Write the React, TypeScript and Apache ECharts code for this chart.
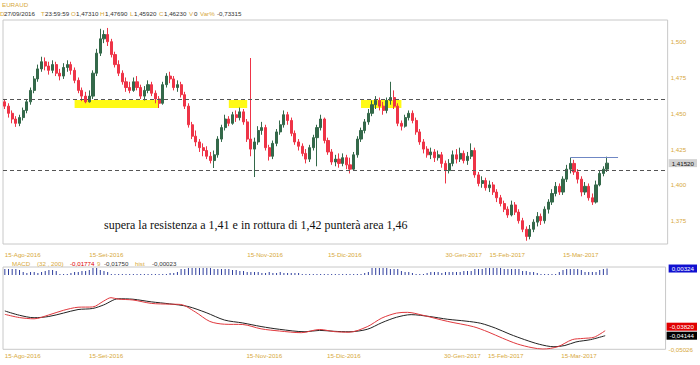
import React, { useEffect, useRef } from "react";
import * as echarts from "echarts";

const MONTHS_IT = ["Gen", "Feb", "Mar", "Apr", "Mag", "Giu", "Lug", "Ago", "Set", "Ott", "Nov", "Dic"];
const SLOT_COUNT = 181; // trading days on the axis (data + empty space on the right)

// [open, close, low, high]
const candles: number[][] = [
  [1.4580, 1.4550, 1.4530, 1.4600], [1.4550, 1.4500, 1.4470, 1.4570], [1.4500, 1.4460, 1.4430, 1.4520],
  [1.4460, 1.4430, 1.4405, 1.4480], [1.4430, 1.4470, 1.4410, 1.4490], [1.4470, 1.4520, 1.4450, 1.4540],
  [1.4520, 1.4580, 1.4500, 1.4600], [1.4580, 1.4660, 1.4560, 1.4680], [1.4660, 1.4740, 1.4640, 1.4760],
  [1.4740, 1.4810, 1.4720, 1.4840], [1.4810, 1.4860, 1.4790, 1.4895], [1.4860, 1.4830, 1.4800, 1.4890],
  [1.4830, 1.4800, 1.4770, 1.4860], [1.4800, 1.4840, 1.4780, 1.4870], [1.4840, 1.4780, 1.4760, 1.4860],
  [1.4780, 1.4760, 1.4730, 1.4810], [1.4760, 1.4820, 1.4740, 1.4850], [1.4820, 1.4840, 1.4790, 1.4870],
  [1.4840, 1.4800, 1.4770, 1.4860], [1.4800, 1.4730, 1.4710, 1.4820], [1.4730, 1.4660, 1.4640, 1.4750],
  [1.4660, 1.4620, 1.4585, 1.4680], [1.4620, 1.4580, 1.4570, 1.4650], [1.4580, 1.4620, 1.4575, 1.4660],
  [1.4620, 1.4780, 1.4600, 1.4800], [1.4780, 1.4920, 1.4760, 1.4950], [1.4920, 1.5020, 1.4900, 1.5090],
  [1.5020, 1.5050, 1.4990, 1.5080], [1.5050, 1.5000, 1.4970, 1.5096], [1.5000, 1.4910, 1.4890, 1.5020],
  [1.4910, 1.4840, 1.4820, 1.4930], [1.4840, 1.4780, 1.4760, 1.4870], [1.4780, 1.4720, 1.4700, 1.4800],
  [1.4720, 1.4680, 1.4650, 1.4750], [1.4680, 1.4660, 1.4640, 1.4720], [1.4660, 1.4720, 1.4650, 1.4750],
  [1.4720, 1.4680, 1.4660, 1.4760], [1.4680, 1.4620, 1.4600, 1.4700], [1.4620, 1.4660, 1.4590, 1.4690],
  [1.4660, 1.4700, 1.4640, 1.4730], [1.4700, 1.4640, 1.4620, 1.4720], [1.4640, 1.4600, 1.4570, 1.4660],
  [1.4600, 1.4570, 1.4537, 1.4620], [1.4570, 1.4700, 1.4560, 1.4720], [1.4700, 1.4760, 1.4680, 1.4780],
  [1.4760, 1.4740, 1.4710, 1.4790], [1.4740, 1.4680, 1.4660, 1.4760], [1.4680, 1.4700, 1.4650, 1.4730],
  [1.4700, 1.4630, 1.4610, 1.4720], [1.4630, 1.4550, 1.4530, 1.4650], [1.4550, 1.4420, 1.4400, 1.4570],
  [1.4420, 1.4340, 1.4320, 1.4440], [1.4340, 1.4300, 1.4270, 1.4380], [1.4300, 1.4260, 1.4230, 1.4320],
  [1.4260, 1.4240, 1.4200, 1.4290], [1.4240, 1.4200, 1.4180, 1.4270], [1.4200, 1.4170, 1.4150, 1.4230],
  [1.4170, 1.4210, 1.4118, 1.4240], [1.4210, 1.4320, 1.4190, 1.4340], [1.4320, 1.4400, 1.4300, 1.4420],
  [1.4400, 1.4460, 1.4380, 1.4490], [1.4460, 1.4430, 1.4410, 1.4480], [1.4430, 1.4490, 1.4420, 1.4510],
  [1.4490, 1.4470, 1.4440, 1.4520], [1.4470, 1.4510, 1.4450, 1.4540], [1.4510, 1.4440, 1.4420, 1.4530],
  [1.4440, 1.4320, 1.4300, 1.4460], [1.4320, 1.4250, 1.4200, 1.4886], [1.4250, 1.4300, 1.4055, 1.4330],
  [1.4300, 1.4380, 1.4280, 1.4410], [1.4380, 1.4400, 1.4350, 1.4440], [1.4400, 1.4260, 1.4240, 1.4420],
  [1.4260, 1.4200, 1.4170, 1.4280], [1.4200, 1.4290, 1.4180, 1.4310], [1.4290, 1.4370, 1.4270, 1.4390],
  [1.4370, 1.4420, 1.4350, 1.4450], [1.4420, 1.4490, 1.4400, 1.4520], [1.4490, 1.4450, 1.4420, 1.4510],
  [1.4450, 1.4360, 1.4340, 1.4470], [1.4360, 1.4300, 1.4280, 1.4380], [1.4300, 1.4270, 1.4240, 1.4320],
  [1.4270, 1.4220, 1.4200, 1.4290], [1.4220, 1.4180, 1.4150, 1.4250], [1.4180, 1.4260, 1.4160, 1.4280],
  [1.4260, 1.4330, 1.4240, 1.4350], [1.4330, 1.4400, 1.4130, 1.4420], [1.4400, 1.4460, 1.4380, 1.4490],
  [1.4460, 1.4310, 1.4290, 1.4470], [1.4310, 1.4230, 1.4210, 1.4330], [1.4230, 1.4160, 1.4140, 1.4250],
  [1.4160, 1.4180, 1.4130, 1.4210], [1.4180, 1.4150, 1.4120, 1.4220], [1.4150, 1.4190, 1.4130, 1.4220],
  [1.4190, 1.4140, 1.4110, 1.4210], [1.4140, 1.4110, 1.4080, 1.4190], [1.4110, 1.4210, 1.4100, 1.4230],
  [1.4210, 1.4320, 1.4190, 1.4340], [1.4320, 1.4380, 1.4300, 1.4400], [1.4380, 1.4440, 1.4360, 1.4460],
  [1.4440, 1.4500, 1.4420, 1.4530], [1.4500, 1.4560, 1.4480, 1.4590], [1.4560, 1.4590, 1.4530, 1.4620],
  [1.4590, 1.4550, 1.4520, 1.4610], [1.4550, 1.4520, 1.4490, 1.4580], [1.4520, 1.4590, 1.4500, 1.4610],
  [1.4590, 1.4610, 1.4560, 1.4720], [1.4610, 1.4550, 1.4530, 1.4660], [1.4550, 1.4430, 1.4410, 1.4570],
  [1.4430, 1.4410, 1.4380, 1.4450], [1.4410, 1.4470, 1.4400, 1.4490], [1.4470, 1.4500, 1.4450, 1.4520],
  [1.4500, 1.4450, 1.4430, 1.4520], [1.4450, 1.4370, 1.4350, 1.4470], [1.4370, 1.4300, 1.4280, 1.4390],
  [1.4300, 1.4250, 1.4220, 1.4320], [1.4250, 1.4210, 1.4190, 1.4270], [1.4210, 1.4230, 1.4180, 1.4260],
  [1.4230, 1.4190, 1.4160, 1.4250], [1.4190, 1.4210, 1.4170, 1.4240], [1.4210, 1.4150, 1.4120, 1.4230],
  [1.4150, 1.4100, 1.4010, 1.4170], [1.4100, 1.4150, 1.4080, 1.4180], [1.4150, 1.4210, 1.4130, 1.4240],
  [1.4210, 1.4180, 1.4150, 1.4250], [1.4180, 1.4220, 1.4160, 1.4260], [1.4220, 1.4170, 1.4150, 1.4240],
  [1.4170, 1.4200, 1.4140, 1.4230], [1.4200, 1.4240, 1.4180, 1.4290], [1.4240, 1.4070, 1.4050, 1.4260],
  [1.4070, 1.4010, 1.3990, 1.4090], [1.4010, 1.4030, 1.3980, 1.4060], [1.4030, 1.3980, 1.3960, 1.4050],
  [1.3980, 1.4000, 1.3950, 1.4030], [1.4000, 1.3950, 1.3930, 1.4020], [1.3950, 1.3910, 1.3880, 1.3970],
  [1.3910, 1.3870, 1.3850, 1.3930], [1.3870, 1.3830, 1.3810, 1.3890], [1.3830, 1.3790, 1.3770, 1.3850],
  [1.3790, 1.3860, 1.3780, 1.3890], [1.3860, 1.3810, 1.3790, 1.3880], [1.3810, 1.3750, 1.3730, 1.3830],
  [1.3750, 1.3690, 1.3670, 1.3770], [1.3690, 1.3640, 1.3610, 1.3710], [1.3640, 1.3690, 1.3620, 1.3720],
  [1.3690, 1.3740, 1.3670, 1.3760], [1.3740, 1.3780, 1.3710, 1.3810], [1.3780, 1.3750, 1.3720, 1.3800],
  [1.3750, 1.3830, 1.3730, 1.3850], [1.3830, 1.3880, 1.3800, 1.3900], [1.3880, 1.3940, 1.3860, 1.3970],
  [1.3940, 1.3990, 1.3920, 1.4020], [1.3990, 1.3950, 1.3930, 1.4010], [1.3950, 1.4040, 1.3930, 1.4060],
  [1.4040, 1.4110, 1.4020, 1.4140], [1.4110, 1.4150, 1.4080, 1.4190], [1.4150, 1.4090, 1.4070, 1.4175],
  [1.4090, 1.4040, 1.4010, 1.4110], [1.4040, 1.3950, 1.3920, 1.4060], [1.3950, 1.3990, 1.3930, 1.4020],
  [1.3990, 1.3910, 1.3890, 1.4010], [1.3910, 1.3880, 1.3860, 1.3940], [1.3880, 1.4000, 1.3870, 1.4030],
  [1.4000, 1.4080, 1.3990, 1.4100], [1.4080, 1.4110, 1.4060, 1.4130], [1.4110, 1.4152, 1.4090, 1.4197],
];

// MACD (red) and signal (black): [candle index, value]
const macdPoints: number[][] = [
  [0, -0.0276], [4, -0.0297], [8, -0.0305], [12, -0.0280], [16, -0.0250], [20, -0.0230], [24, -0.0228],
  [27, -0.0190], [29, -0.0168], [31, -0.01774], [35, -0.0183], [40, -0.0205], [45, -0.0210], [48, -0.0212],
  [52, -0.0260], [56, -0.0322], [60, -0.0340], [65, -0.0342], [70, -0.0370], [75, -0.0384], [81, -0.0395],
  [86, -0.0374], [90, -0.0388], [94, -0.0392], [99, -0.0356], [103, -0.0300], [107, -0.0268], [110, -0.0263],
  [114, -0.0281], [121, -0.0322], [128, -0.0356], [132, -0.0390], [136, -0.0431], [140, -0.0468],
  [144, -0.0492], [147, -0.0501], [151, -0.0486], [155, -0.0440], [158, -0.0432], [161, -0.0424], [164, -0.0382],
];
const signalPoints: number[][] = [
  [0, -0.0254], [4, -0.0282], [8, -0.0298], [12, -0.0290], [16, -0.0268], [20, -0.0245], [24, -0.0238],
  [27, -0.0215], [31, -0.0175], [35, -0.0178], [40, -0.0195], [45, -0.0208], [50, -0.0225], [55, -0.0265],
  [60, -0.0313], [65, -0.0332], [70, -0.0355], [75, -0.0373], [82, -0.0389], [86, -0.0380], [90, -0.0386],
  [94, -0.0389], [99, -0.0373], [103, -0.0330], [107, -0.0295], [111, -0.0278], [116, -0.0290], [121, -0.0308],
  [126, -0.0320], [130, -0.0334], [134, -0.0365], [138, -0.0405], [142, -0.0440], [146, -0.0470],
  [150, -0.0486], [153, -0.0478], [156, -0.0455], [160, -0.0440], [164, -0.04144],
];
// histogram magnitude per candle
const histogram: number[] = [
  0.0030, 0.0030, 0.0030, 0.0030, 0.0025, 0.0015, 0.0010, 0.0015, 0.0015, 0.0010,
  0.0015, 0.0020, 0.0025, 0.0025, 0.0020, 0.0005, 0.0005, 0.0005, 0.0010, 0.0015,
  0.0015, 0.0020, 0.0020, 0.0025, 0.0035, 0.0035, 0.0025, 0.0020, 0.0015, 0.0005,
  0.0005, 0.0005, 0.0005, 0.0005, 0.0005, 0.0005, 0.0005, 0.0005, 0.0005, 0.0005,
  0.0005, 0.0005, 0.0005, 0.0005, 0.0005, 0.0010, 0.0010, 0.0015, 0.0030, 0.0030,
  0.0035, 0.0035, 0.0035, 0.0035, 0.0035, 0.0035, 0.0035, 0.0030, 0.0030, 0.0030,
  0.0030, 0.0030, 0.0025, 0.0025, 0.0020, 0.0020, 0.0015, 0.0015, 0.0015, 0.0015,
  0.0010, 0.0010, 0.0015, 0.0010, 0.0010, 0.0015, 0.0010, 0.0010, 0.0010, 0.0010,
  0.0010, 0.0005, 0.0005, 0.0005, 0.0005, 0.0005, 0.0005, 0.0005, 0.0005, 0.0005,
  0.0005, 0.0005, 0.0005, 0.0005, 0.0005, 0.0005, 0.0005, 0.0005, 0.0010, 0.0015,
  0.0035, 0.0035, 0.0035, 0.0035, 0.0035, 0.0030, 0.0030, 0.0030, 0.0020, 0.0015,
  0.0015, 0.0010, 0.0005, 0.0005, 0.0005, 0.0010, 0.0015, 0.0015, 0.0015, 0.0010,
  0.0015, 0.0015, 0.0015, 0.0015, 0.0015, 0.0020, 0.0020, 0.0020, 0.0030, 0.0030,
  0.0030, 0.0035, 0.0035, 0.0035, 0.0035, 0.0035, 0.0030, 0.0030, 0.0030, 0.0030,
  0.0030, 0.0020, 0.0020, 0.0015, 0.0015, 0.0010, 0.0005, 0.0005, 0.0005, 0.0005,
  0.0005, 0.0015, 0.0025, 0.0030, 0.0030, 0.0030, 0.0030, 0.0025, 0.0015, 0.0015,
  0.0015, 0.0015, 0.0025, 0.0030, 0.00324,
];

const priceTicks = [1.375, 1.4, 1.425, 1.45, 1.475, 1.5];
const dateTickLabels = ["15-Ago-2016", "15-Set-2016", "15-Nov-2016", "15-Dic-2016", "30-Gen-2017", "15-Feb-2017", "15-Mar-2017"];
const resistanceLevels = [1.4563, 1.4112];
const trendLevel = { from: 154, to: 167, value: 1.4191 };
const highlightZones = [
  { from: 19, to: 42 },
  { from: 61, to: 66 },
  { from: 97, to: 108 },
];
const highlightBand = [1.4537, 1.4593];
const lastPrice = 1.4152;
const lastMacd = -0.0382;
const lastSignal = -0.04144;
const lastHist = 0.00324;
const macdMin = -0.05026;
const noteText = "supera la resistenza a 1,41 e in rottura di 1,42 punterà area 1,46";

const GOLD = "#d7a93b";
const UP = "#34694a";
const DOWN = "#ee3447";
const FONT = "'Liberation Sans', Arial, sans-serif";
const FS = 6.2;

function buildDates(): string[] {
  const out: string[] = [];
  const d = new Date(Date.UTC(2016, 7, 15));
  while (out.length < SLOT_COUNT) {
    const wd = d.getUTCDay();
    if (wd !== 0 && wd !== 6) {
      out.push(`${String(d.getUTCDate()).padStart(2, "0")}-${MONTHS_IT[d.getUTCMonth()]}-${d.getUTCFullYear()}`);
    }
    d.setUTCDate(d.getUTCDate() + 1);
  }
  return out;
}

const comma = (v: number, digits: number) => v.toFixed(digits).replace(".", ",");

function seg(parts: [string, number, string][], y: number) {
  return parts.map(([text, x, color]) => ({
    type: "text",
    left: x,
    top: y,
    silent: true,
    style: { text, fill: color, font: `${FS}px ${FONT}` },
  }));
}

const hiddenAxisParts = { axisLine: { show: false }, axisTick: { show: false }, splitLine: { show: false } };

// an extra right-hand value axis that shows one boxed "last value" label
function boxAxis(gridIndex: number, min: number, max: number, value: number, bg: string, fg: string, vAlign: string) {
  return {
    gridIndex, type: "value", position: "right", min, max, scale: true, ...hiddenAxisParts,
    axisLabel: {
      customValues: [value], formatter: (v: number) => comma(v, 5), color: fg, backgroundColor: bg,
      padding: [1, 3, 1, 3], fontSize: FS, fontFamily: FONT, margin: 1, verticalAlign: vAlign,
    },
  };
}

export default function App() {
  const ref = useRef<HTMLDivElement>(null);
  useEffect(() => {
    document.body.style.margin = "0";
    if (!ref.current) return;
    const chart = echarts.init(ref.current, undefined, { renderer: "svg" });
    const dates = buildDates();
    const axisLabelBase = {
      interval: (_i: number, v: string) => dateTickLabels.includes(v),
      align: "left",
      color: GOLD,
      fontSize: FS,
      fontFamily: FONT,
    };
    const P_MIN = 1.35873, P_MAX = 1.51515, M_MAX = 0.00308, H_MAX = 0.0035;
    const option: any = {
      animation: false,
      backgroundColor: "#ffffff",
      grid: [
        { left: 3, top: 20, width: 667, height: 224, show: true, borderColor: "#c8c8c8", borderWidth: 1, backgroundColor: "transparent" },
        { left: 3, top: 267, width: 667, height: 82.3, show: true, borderColor: "#c8c8c8", borderWidth: 1, backgroundColor: "transparent" },
        { left: 3, top: 268, width: 667, height: 7 },
      ],
      xAxis: [
        { gridIndex: 0, type: "category", data: dates, boundaryGap: true, ...hiddenAxisParts, axisLabel: { ...axisLabelBase, margin: 7 } },
        { gridIndex: 1, type: "category", data: dates, boundaryGap: true, ...hiddenAxisParts, axisLabel: { ...axisLabelBase, margin: 3 } },
        { gridIndex: 2, type: "category", data: dates, boundaryGap: true, show: false },
      ],
      yAxis: [
        {
          gridIndex: 0, type: "value", position: "right", min: P_MIN, max: P_MAX, scale: true, ...hiddenAxisParts,
          axisLabel: { customValues: priceTicks, formatter: (v: number) => comma(v, 3), color: GOLD, fontSize: FS, fontFamily: FONT, margin: 3 },
        },
        {
          gridIndex: 1, type: "value", position: "right", min: macdMin, max: M_MAX, scale: true, ...hiddenAxisParts,
          axisLabel: { customValues: [macdMin], formatter: (v: number) => comma(v, 5), color: GOLD, fontSize: FS, fontFamily: FONT, margin: 3 },
        },
        { gridIndex: 2, type: "value", min: 0, max: H_MAX, show: false },
        boxAxis(0, P_MIN, P_MAX, lastPrice, "#d2d2d2", "#111", "middle"),
        boxAxis(2, 0, H_MAX, lastHist, "#1010d0", "#fff", "middle"),
        boxAxis(1, macdMin, M_MAX, lastMacd, "#e00000", "#fff", "bottom"),
        boxAxis(1, macdMin, M_MAX, lastSignal, "#000000", "#fff", "middle"),
      ],
      series: [
        {
          type: "candlestick",
          xAxisIndex: 0,
          yAxisIndex: 0,
          data: candles,
          barWidth: 2.6,
          itemStyle: { color: UP, color0: DOWN, borderColor: UP, borderColor0: DOWN, borderWidth: 1 },
          markArea: {
            silent: true,
            itemStyle: { color: "rgba(255,250,0,0.92)" },
            data: highlightZones.map((z) => [
              { xAxis: dates[z.from], yAxis: highlightBand[0] },
              { xAxis: dates[z.to], yAxis: highlightBand[1] },
            ]),
          },
          markLine: {
            silent: true,
            symbol: ["none", "none"],
            label: { show: false },
            data: [
              ...resistanceLevels.map((v) => ({ yAxis: v, lineStyle: { color: "#555", width: 1, type: [4, 3] } })),
              [
                { coord: [dates[trendLevel.from], trendLevel.value], lineStyle: { color: "#6f87c4", width: 1, type: "solid" } },
                { coord: [dates[trendLevel.to], trendLevel.value] },
              ],
            ],
          },
        },
        {
          type: "bar",
          xAxisIndex: 2,
          yAxisIndex: 2,
          data: histogram,
          barWidth: 1,
          itemStyle: { color: "#2f3f9e" },
        },
        {
          type: "line",
          xAxisIndex: 1,
          yAxisIndex: 1,
          data: signalPoints,
          showSymbol: false,
          smooth: 0.3,
          lineStyle: { color: "#222", width: 1 },
        },
        {
          type: "line",
          xAxisIndex: 1,
          yAxisIndex: 1,
          data: macdPoints,
          showSymbol: false,
          smooth: 0.3,
          lineStyle: { color: "#e0393e", width: 1 },
        },
      ],
      graphic: [
        { type: "text", left: 2, top: 1, silent: true, style: { text: "EURAUD", fill: GOLD, font: `${FS}px ${FONT}` } },
        ...seg([
          ["D", 0, GOLD], ["27/09/2016", 4, "#333"], ["T", 41, GOLD], ["23:59:59", 45, "#333"],
          ["O", 71, GOLD], ["1,47310", 76, "#333"], ["H", 100, GOLD], ["1,47690", 105, "#333"],
          ["L", 130, GOLD], ["1,45920", 134, "#333"], ["C", 159, GOLD], ["1,46230", 164, "#333"],
          ["V", 189, GOLD], ["0", 194, "#333"], ["Var%", 200, GOLD], ["-0,73315", 217, "#333"],
        ], 10),
        ...seg([
          ["MACD", 12, GOLD], ["(32 , 200)", 37, GOLD], ["-0,01774", 70, "#e00000"], ["9", 97, GOLD],
          ["-0,01750", 104, "#333"], ["hist", 135, GOLD], ["-0,00023", 152, "#333"],
        ], 260),
        {
          type: "text", left: 104, top: 219, silent: true,
          style: { text: noteText, fill: "#111", font: "12px 'Liberation Serif', 'Times New Roman', serif" },
        },
      ],
    };
    chart.setOption(option);
    return () => chart.dispose();
  }, []);
  return <div ref={ref} style={{ width: 700, height: 365 }} />;
}
